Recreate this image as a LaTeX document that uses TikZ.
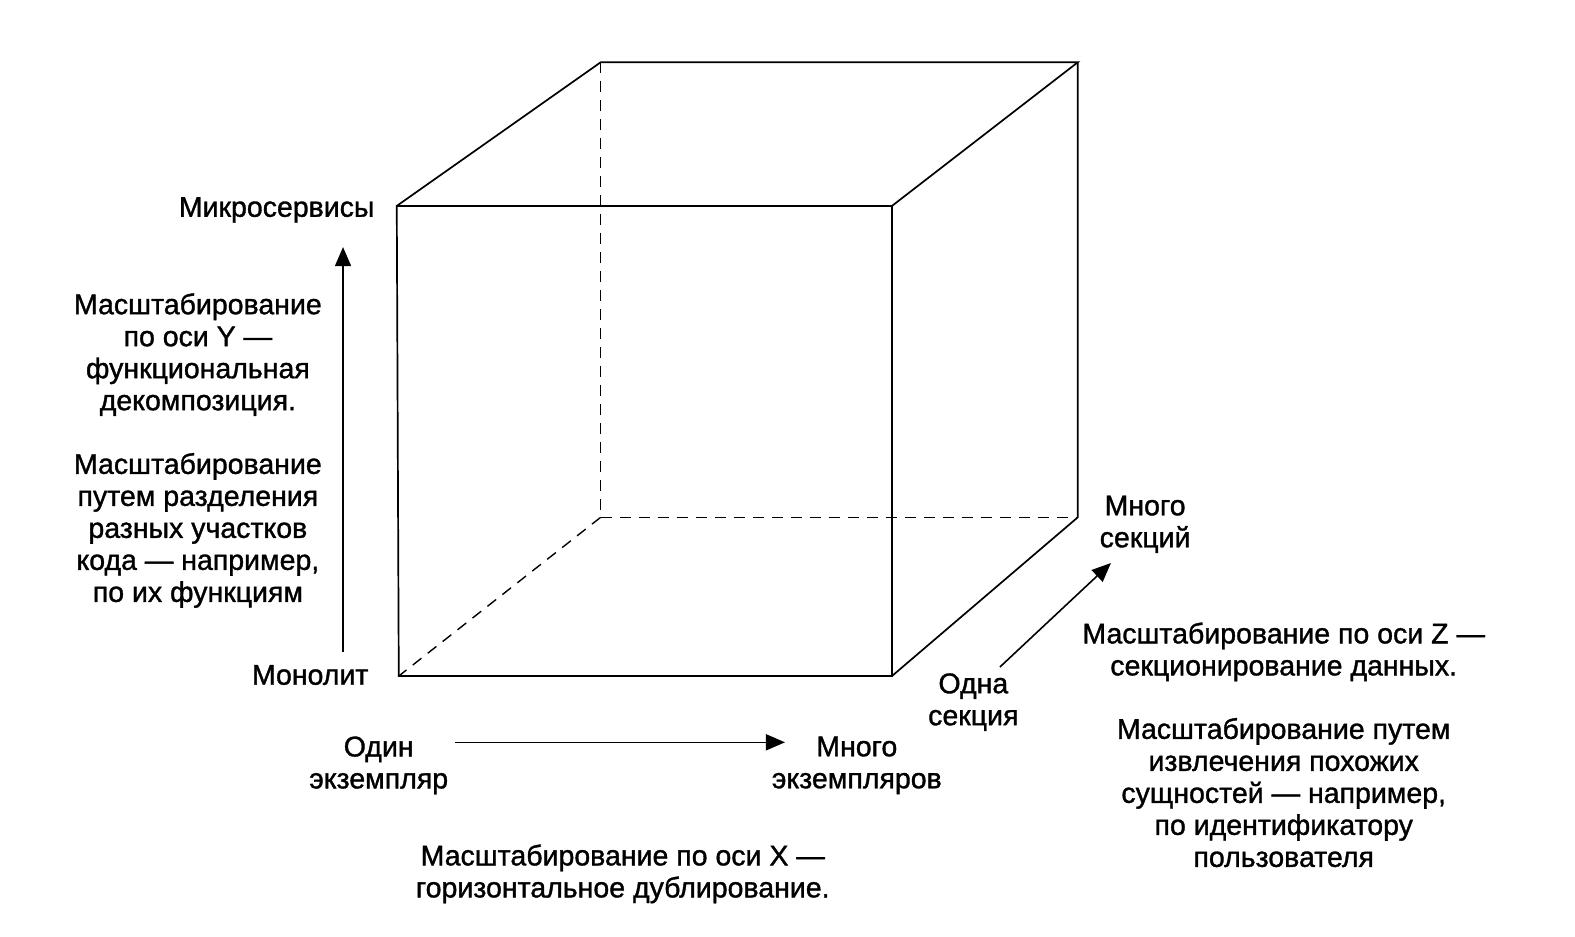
\documentclass[tikz,border=0pt]{standalone}
\usepackage{fontspec}
\setmainfont[FakeBold=1.2]{Liberation Sans}
\usetikzlibrary{arrows.meta}

\tikzset{
  edge/.style={line width=1.7pt},
  hidden/.style={line width=1.4pt, dash pattern=on 11pt off 8pt},
  axis/.style={line width=1.6pt, -{Triangle[length=19pt,width=16pt]}},
  txt/.style={align=center, font=\fontsize{28.5}{32}\selectfont, inner sep=0pt},
}

\begin{document}
\begin{tikzpicture}[x=1.00446pt, y=-1.00446pt]
    \useasboundingbox (0,0) rectangle (1568,932);

    % front face of the cube
    \coordinate (FBL) at (397,673);
    \coordinate (FBR) at (888,673);
    \coordinate (FTR) at (888,205);
    \coordinate (FTL) at (395,205);
    % back face of the cube
    \coordinate (BBL) at (598,515);
    \coordinate (BBR) at (1073,515);
    \coordinate (BTR) at (1073,62);
    \coordinate (BTL) at (598,62);

    \draw[edge] (FBL) -- (FBR) -- (FTR) -- (FTL) -- cycle;
    \draw[edge] (FTL) -- (BTL) -- (BTR) -- (FTR);
    \draw[edge] (BTR) -- (BBR) -- (FBR);

    % hidden edges
    \draw[hidden] (BTL) -- (BBL);
    \draw[hidden] (BBL) -- (BBR);
    \draw[hidden] (BBL) -- (FBL);

    % y axis
    \node[txt, anchor=east] (micro) at (373,209) {Микросервисы};
    \node[txt, anchor=east] (mono) at (367,672) {Монолит};
    \coordinate (ys) at (341.5,649);
    \coordinate (ye) at (341.5,246);
    \draw[axis] (ys) -- (ye);
    \node[txt] (ytitle) at (197,353) {Масштабирование\\по оси Y ---\\функциональная\\декомпозиция.};
    \node[txt] (ynote) at (197,528) {Масштабирование\\путем разделения\\разных участков\\кода --- например,\\по их функциям};

    % x axis
    \node[txt] (one) at (377,762) {Один\\экземпляр};
    \node[txt] (many) at (853,762) {Много\\экземпляров};
    \coordinate (xs) at (453,739);
    \coordinate (xe) at (781.5,739);
    \draw[axis] (xs) -- (xe);
    \node[txt] (xtitle) at (620,870) {Масштабирование по оси X ---\\горизонтальное дублирование.};

    % z axis
    \node[txt] (onesec) at (969,699) {Одна\\секция};
    \node[txt] (manysec) at (1140,522) {Много\\секций};
    \coordinate (zs) at (995.5,664);
    \coordinate (ze) at (1106,560.5);
    \draw[axis] (zs) -- (ze);
    \node[txt] (ztitle) at (1278,649) {Масштабирование по оси Z ---\\секционирование данных.};
    \node[txt] (znote) at (1278,789) {Масштабирование путем\\извлечения похожих\\сущностей --- например,\\по идентификатору\\пользователя};
\end{tikzpicture}
\end{document}
